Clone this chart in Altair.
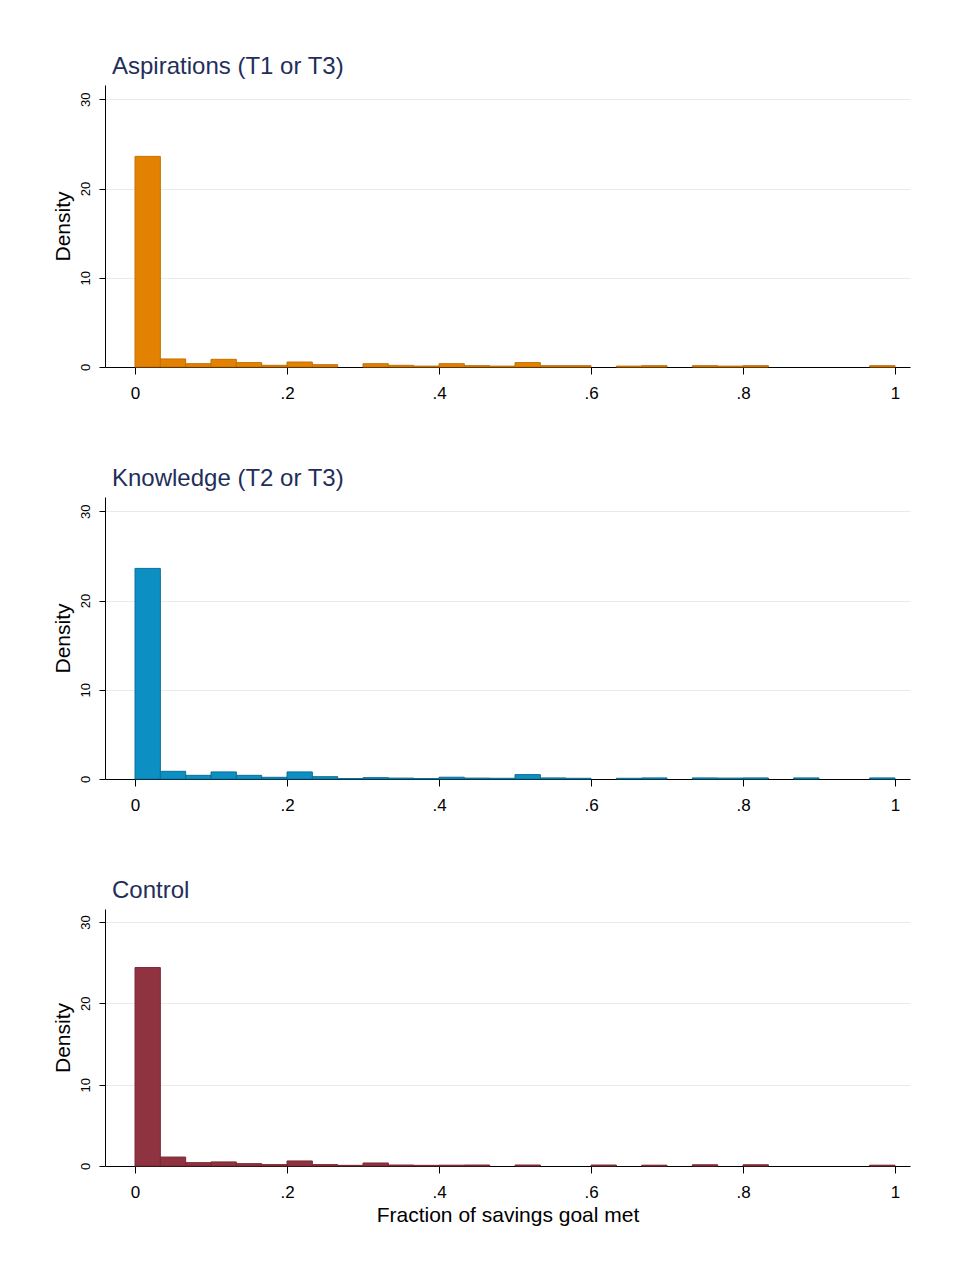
import altair as alt
import pandas as pd

# Histogram densities, 30 bins of width 1/30 on [0, 1]
n_bins = 30
aspirations = [23.6, 0.9, 0.37, 0.86, 0.49, 0.19, 0.56, 0.26, 0.0, 0.37,
               0.19, 0.1, 0.37, 0.15, 0.1, 0.49, 0.15, 0.15, 0.0, 0.1,
               0.15, 0.0, 0.15, 0.1, 0.15, 0.0, 0.0, 0.0, 0.0, 0.15]
knowledge = [23.6, 0.86, 0.41, 0.79, 0.41, 0.19, 0.79, 0.26, 0.05, 0.15,
             0.1, 0.05, 0.2, 0.1, 0.08, 0.49, 0.12, 0.08, 0.0, 0.08,
             0.12, 0.0, 0.12, 0.1, 0.12, 0.0, 0.12, 0.0, 0.0, 0.12]
control = [24.4, 1.1, 0.41, 0.5, 0.29, 0.17, 0.62, 0.17, 0.08, 0.37,
           0.12, 0.08, 0.1, 0.12, 0.0, 0.12, 0.0, 0.0, 0.12, 0.0,
           0.1, 0.0, 0.15, 0.0, 0.15, 0.0, 0.0, 0.0, 0.0, 0.1]

titles = ["Aspirations (T1 or T3)", "Knowledge (T2 or T3)", "Control"]
fills = ["#E38200", "#0C8FC3", "#903340"]
strokes = ["#C56F00", "#0A6E98", "#7A2833"]
x_ticks = [0, 0.2, 0.4, 0.6, 0.8, 1]
y_ticks = [0, 10, 20, 30]

FONT = "Liberation Sans"


def panel(values, title, fill, stroke, height, show_xtitle):
    df = pd.DataFrame({
        "start": [i / n_bins for i in range(n_bins)],
        "end": [(i + 1) / n_bins for i in range(n_bins)],
        "density": values,
    })
    df = df[df["density"] > 0]
    x_axis = alt.Axis(
        values=x_ticks,
        labelExpr="datum.value == 0 ? '0' : datum.value == 1 ? '1' : replace(format(datum.value, '.1f'), '0.', '.')",
        grid=False, tickSize=7, tickColor="#000000", domainColor="#000000",
        labelFontSize=17, labelColor="#000000", labelPadding=11, labelFont=FONT,
        titleFontSize=21, titleFontWeight="normal", titleColor="#000000",
        titleFont=FONT, titlePadding=4,
    )
    y_axis = alt.Axis(
        values=y_ticks, grid=True, gridColor="#EAEAEA", tickSize=6,
        tickColor="#000000", domainColor="#000000",
        labelAngle=270, labelAlign="center", labelBaseline="bottom",
        labelFontSize=13, labelColor="#000000", labelPadding=7, labelFont=FONT,
        title="Density", titleFontSize=21, titleFontWeight="normal",
        titleColor="#000000", titleFont=FONT, titlePadding=6,
    )
    xtitle = "Fraction of savings goal met" if show_xtitle else ""
    bars = alt.Chart(df).mark_rect(fill=fill, stroke=stroke, strokeWidth=1).encode(
        x=alt.X("start:Q", scale=alt.Scale(domain=[-0.0395, 1.0197], nice=False, zero=False),
                axis=x_axis, title=xtitle),
        x2="end:Q",
        y=alt.Y("density:Q", scale=alt.Scale(domain=[0, 31.6], nice=False), axis=y_axis),
        y2=alt.datum(0),
    )
    return bars.properties(
        width=805, height=height,
        title=alt.TitleParams(text=title, anchor="start", frame="group", dx=7,
                              fontSize=24, fontWeight="normal", color="#1F2F5A",
                              font=FONT, offset=6),
    )


p1 = panel(aspirations, titles[0], fills[0], strokes[0], 282, False)
p2 = panel(knowledge, titles[1], fills[1], strokes[1], 282, False)
p3 = panel(control, titles[2], fills[2], strokes[2], 257, True)

chart = alt.vconcat(p1, p2, p3, spacing=66).properties(
    padding={"top": 47, "left": 44, "right": 10, "bottom": 5},
    background="#FFFFFF",
).configure_view(stroke=None)

chart.save("out.html", embed_options={"renderer": "svg", "actions": False})
